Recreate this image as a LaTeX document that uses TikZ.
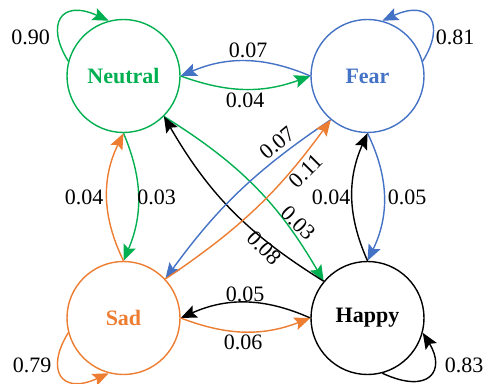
\documentclass[tikz,border=0pt]{standalone}
\usepackage{fontspec}
\setmainfont{Liberation Serif}
\newfontfamily\lserif{Liberation Serif}
\usetikzlibrary{arrows.meta}
\definecolor{cgreen}{HTML}{00B050}
\definecolor{cblue}{HTML}{4472C4}
\definecolor{corange}{HTML}{ED7D31}
\begin{document}
\begin{tikzpicture}[x=1pt,y=1pt,
  state/.style={circle, draw, line width=1.4pt, minimum size=113pt, inner sep=0pt, font=\lserif\fontsize{22}{26}\selectfont\bfseries},
  edge/.style={line width=1.4pt, -{Stealth[length=16pt,width=13pt,inset=3pt]}},
  lbl/.style={font=\lserif\fontsize{22}{26}\selectfont, inner sep=0pt}]
\useasboundingbox (0,0) rectangle (484,383);
\node[state, draw=cgreen, text=cgreen] (N) at (123.5,307) {Neutral};
\node[state, draw=cblue, text=cblue] (F) at (367.5,307) {Fear};
\node[state, draw=corange, text=corange] (S) at (123.5,65) {Sad};
\node[state, draw=black, text=black] (H) at (367.5,65) {Happy};
% self loops
\draw[edge, cgreen] (N.165) .. controls +(-23,37) and +(-48,22) .. (N.105);
\draw[edge, cblue] (F.15) .. controls +(23,37) and +(48,22) .. (F.75);
\draw[edge, corange] (S.195) .. controls +(-23,-37) and +(-48,-22) .. (S.255);
\draw[edge, black] (H.285) .. controls +(48,-22) and +(23,-37) .. (H.345);
% horizontal
\draw[edge, cgreen] (N.east) to[bend right=20] (F.west);
\draw[edge, cblue] (F.west) to[bend right=23] (N.east);
\draw[edge, black] (H.west) to[bend right=24] (S.east);
\draw[edge, corange] (S.east) to[bend right=21] (H.west);
% vertical
\draw[edge, cgreen] (N.south) to[bend left=23] (S.north);
\draw[edge, corange] (S.north) to[bend left=26] (N.south);
\draw[edge, cblue] (F.south) to[bend left=26] (H.north);
\draw[edge, black] (H.north) to[bend left=24] (F.south);
% diagonals
\draw[edge, cgreen] (N.-45) to[bend left=14] (H.140);
\draw[edge, black] (H.140) to[bend left=14] (N.-45);
\draw[edge, cblue] (F.230) to[bend right=10] (S.43);
\draw[edge, corange] (S.43) to[bend right=10] (F.230);
% labels
\node[lbl] (lNN) at (30.5,346) {0.90};
\node[lbl] (lFF) at (455,346) {0.81};
\node[lbl] (lSS) at (32,18) {0.79};
\node[lbl] (lHH) at (464,18) {0.83};
\node[lbl] (lFN) at (248,333) {0.07};
\node[lbl] (lNF) at (245,283) {0.04};
\node[lbl] (lHS) at (245,89) {0.05};
\node[lbl] (lSH) at (243,40.5) {0.06};
\node[lbl] (lSN) at (84,185.5) {0.04};
\node[lbl] (lNS) at (156.5,185.5) {0.03};
\node[lbl] (lHF) at (331,185.5) {0.04};
\node[lbl] (lFH) at (407,185.5) {0.05};
\node[lbl, rotate=40] (lFS) at (277,240) {0.07};
\node[lbl, rotate=45] (lSF) at (306,212) {0.11};
\node[lbl, rotate=-45] (lNH) at (298,160) {0.03};
\node[lbl, rotate=-46] (lHN) at (264,135) {0.08};
\end{tikzpicture}
\end{document}
